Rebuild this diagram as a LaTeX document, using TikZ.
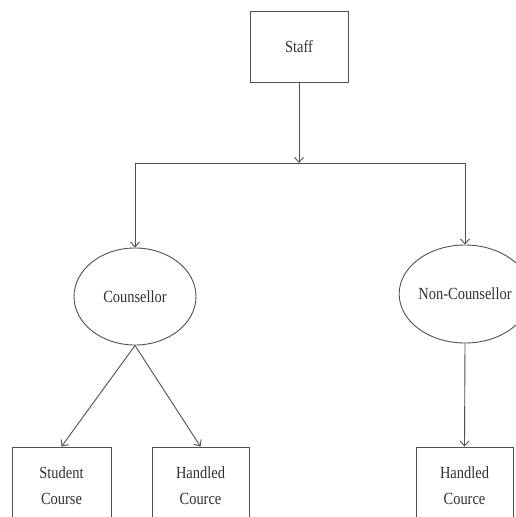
\documentclass[tikz,border=0pt]{standalone}
\usepackage{fontspec}
\setmainfont{Liberation Serif}[FakeStretch=0.85]
\usetikzlibrary{shapes.geometric,arrows.meta}
\definecolor{ln}{HTML}{505050}
\definecolor{tx}{HTML}{303030}
\begin{document}
\begin{tikzpicture}[x=1pt,y=-1pt,
  line width=0.9pt,
  every node/.style={text=tx,font=\fontsize{17}{26}\selectfont,align=center,inner sep=0pt},
  box/.style={draw=ln,rectangle,line width=0.9pt},
  oval/.style={draw=ln,ellipse,line width=0.9pt},
  arr/.style={draw=ln,-{Straight Barb[length=5pt,width=9pt]}},
  con/.style={draw=ln}]
\useasboundingbox (0,0) rectangle (516,517);
\clip (0,0) rectangle (516,517);
\node[box,minimum width=98pt,minimum height=71pt] (staff) at (299,46.5) {Staff};
\coordinate (busM) at (299,163);
\coordinate (busL) at (135,163);
\coordinate (busR) at (465,163);
\node[oval,minimum width=122pt,minimum height=97pt] (couns) at (135,296.5) {Counsellor};
\node[oval,minimum width=118pt,minimum height=98pt] (noncouns) at (465,294) {Non-Counsellor};
\node[box,minimum width=99pt,minimum height=78pt] (sc) at (61.5,486) {Student\\Course};
\node[box,minimum width=97pt,minimum height=78pt] (hc1) at (200.5,486) {Handled\\Cource};
\node[box,minimum width=97pt,minimum height=78pt] (hc2) at (464.5,486) {Handled\\Cource};
\draw[arr] (staff.south) -- (busM);
\draw[con] (busL) -- (busR);
\draw[arr] (busL) -- (couns.north);
\draw[arr] (busR) -- (noncouns.north);
\draw[arr] (couns.south) -- (sc.north);
\draw[arr] (couns.south) -- (hc1.north);
\draw[arr] (noncouns.south) -- (hc2.north);
\end{tikzpicture}
\end{document}
